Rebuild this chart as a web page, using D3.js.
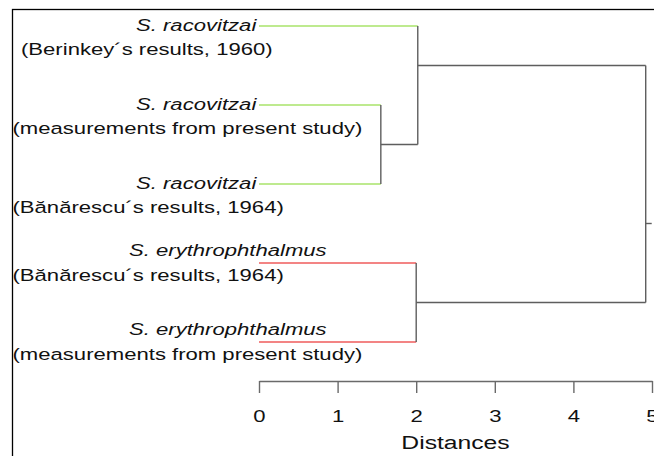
<!DOCTYPE html>
<html>
<head>
<meta charset="utf-8">
<script src="https://cdn.jsdelivr.net/npm/d3@7"></script>
<style>
  html, body { margin: 0; padding: 0; background: #fff; }
  svg { display: block; }
  text { font-family: "Liberation Sans", Arial, sans-serif; fill: #111; }
</style>
</head>
<body>
<svg id="chart" width="654" height="456"></svg>
<script>
// Leaves of the tree, top to bottom
const species = [
  "S. racovitzai",
  "S. racovitzai",
  "S. racovitzai",
  "S. erythrophthalmus",
  "S. erythrophthalmus"
];
const sources = [
  "(Berinkey\u00b4s results, 1960)",
  "(measurements from present study)",
  "(B\u0103n\u0103rescu\u00b4s results, 1964)",
  "(B\u0103n\u0103rescu\u00b4s results, 1964)",
  "(measurements from present study)"
];
const leafGroup = ["rac", "rac", "rac", "ery", "ery"];

// Joins: children (leaf index or node id), linkage distance, vertical rank of the join
const nodeIds      = ["A", "C", "B", "root"];
const nodeChildren = [[1, 2], [3, 4], [0, "A"], ["B", "C"]];
const nodeHeights  = [1.55, 2.00, 2.02, 4.92];
const nodeRanks    = [1.5, 3.5, 0.5, 2.5];

const distanceTicks = [0, 1, 2, 3, 4, 5];
const axisTitle = "Distances";

// ---- layout ----
const svg = d3.select("#chart");
const fontSize = 17;
const stretch = 1.3;              // wide lettering
const groupColor = { rac: "#a9e36a", ery: "#ef5b5b" };
const linkColor = "#5e5e5e";

const x = d3.scaleLinear().domain([0, 5]).range([259, 652]);
const y = d3.scaleLinear().domain([0, 4]).range([26, 342]);

// frame
svg.append("rect")
  .attr("x", 12.5).attr("y", 9.5)
  .attr("width", 700).attr("height", 500)
  .attr("fill", "none").attr("stroke", "#000").attr("stroke-width", 1.3);

// node lookup
const nodes = {};
nodeIds.forEach((id, i) => {
  nodes[id] = { id, children: nodeChildren[i], h: nodeHeights[i], rank: nodeRanks[i] };
});
const rankOf = c => (typeof c === "number" ? c : nodes[c].rank);
const heightOf = c => (typeof c === "number" ? 0 : nodes[c].h);

const g = svg.append("g").attr("fill", "none").attr("stroke-width", 1.4);

// horizontal branches from each child to its parent join
nodeIds.forEach(id => {
  const n = nodes[id];
  n.children.forEach(c => {
    const isLeaf = typeof c === "number";
    g.append("line")
      .attr("x1", x(heightOf(c))).attr("x2", x(n.h))
      .attr("y1", y(rankOf(c))).attr("y2", y(rankOf(c)))
      .attr("stroke", isLeaf ? groupColor[leafGroup[c]] : linkColor);
  });
  // vertical join
  const rs = n.children.map(rankOf);
  g.append("line")
    .attr("x1", x(n.h)).attr("x2", x(n.h))
    .attr("y1", y(d3.min(rs))).attr("y2", y(d3.max(rs)))
    .attr("stroke", linkColor);
});

// short stub out of the root
const root = nodes["root"];
g.append("line")
  .attr("x1", x(root.h)).attr("x2", x(root.h) + 6)
  .attr("y1", y(root.rank)).attr("y2", y(root.rank))
  .attr("stroke", linkColor);

// leaf labels (two lines each)
const firstLineX = { rac: 136, ery: 129 };
const firstLineDy = { rac: 4.5, ery: -7 };
const lbl = svg.append("g");
species.forEach((s, i) => {
  const grp = leafGroup[i];
  const base = y(i) + firstLineDy[grp];
  lbl.append("text")
    .attr("transform", `translate(${firstLineX[grp]},${base}) scale(${stretch},1)`)
    .attr("font-size", fontSize)
    .attr("font-style", "italic")
    .text(s);
  lbl.append("text")
    .attr("transform", `translate(${i === 0 ? 21 : 12.5},${base + 24.5}) scale(${stretch},1)`)
    .attr("font-size", fontSize)
    .text(sources[i]);
});

// distance axis
const axis = d3.axisBottom(x)
  .tickValues(distanceTicks)
  .tickFormat(d3.format("d"))
  .tickSize(12)
  .tickSizeOuter(0)
  .tickPadding(17);

const ax = svg.append("g")
  .attr("transform", "translate(0,381)")
  .call(axis);
ax.select(".domain").attr("stroke", "#6a6a6a").attr("stroke-width", 1.4);
ax.selectAll(".tick line").attr("stroke", "#6a6a6a").attr("stroke-width", 1.4);
ax.selectAll(".tick text")
  .attr("font-size", fontSize)
  .attr("font-family", "Liberation Sans, Arial, sans-serif")
  .attr("fill", "#111")
  .attr("transform", `scale(${stretch},1)`);

svg.append("text")
  .attr("transform", `translate(${(x(0) + x(5)) / 2},449) scale(${stretch},1)`)
  .attr("text-anchor", "middle")
  .attr("font-size", 19)
  .text(axisTitle);
</script>
</body>
</html>
